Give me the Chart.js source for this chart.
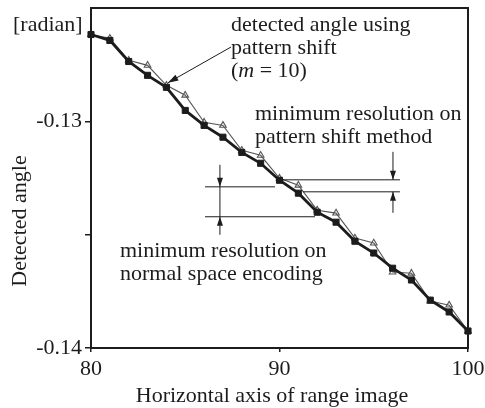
<!DOCTYPE html>
<html>
<head>
<meta charset="utf-8">
<script src="https://cdn.jsdelivr.net/npm/chart.js@4.4.1/dist/chart.umd.min.js"></script>
<style>
  html, body { margin: 0; padding: 0; background: #fff; }
  #wrap { width: 485px; height: 408px; }
</style>
</head>
<body>
<div id="wrap"><canvas id="chart" width="485" height="408"></canvas></div>
<script>
// horizontal position on the range image
const positions = [80, 81, 82, 83, 84, 85, 86, 87, 88, 89, 90, 91, 92, 93, 94, 95, 96, 97, 98, 99, 100]
// detected angle, thick line with filled squares
const squareAngle = [-0.12617, -0.12643, -0.12736, -0.12797, -0.1285, -0.12952, -0.13018, -0.1307, -0.13137, -0.13185,
  -0.1326, -0.13317, -0.13401, -0.13445, -0.13529, -0.13581, -0.13648, -0.137, -0.13789, -0.13841, -0.13925]
// detected angle, thin line with open triangles
const triangleAngle = [-0.12617, -0.12634, -0.12731, -0.12753, -0.12841, -0.12885, -0.13004, -0.13018, -0.13128, -0.1315,
  -0.13251, -0.13282, -0.13392, -0.13405, -0.13515, -0.13537, -0.13665, -0.1367, -0.13793, -0.13811, -0.13925]

const xTicks = [80, 90, 100]
const yTicks = [-0.14, -0.135, -0.13]
const yTickLabels = { '-0.14': '-0.14', '-0.13': '-0.13' }

// resolution marks (axis values)
const shiftLevels = [-0.13258, -0.13311]
const shiftSpan = [[90.19, 96.39], [91.25, 96.39]]
const shiftArrowX = 96.02
const normalLevels = [-0.13289, -0.13421]
const normalSpan = [[86.05, 89.76], [86.05, 91.88]]
const normalArrowX = 86.84

const serif = '"Liberation Serif", "Times New Roman", serif'
const ink = '#1c1c1c'

function arrowHead (ctx, x, y, dir) {
  // dir: 1 points down, -1 points up
  ctx.beginPath()
  ctx.moveTo(x, y)
  ctx.lineTo(x - 3, y - dir * 9)
  ctx.lineTo(x + 3, y - dir * 9)
  ctx.closePath()
  ctx.fill()
}

const annotate = {
  id: 'annotate',
  afterDraw (chart) {
    const { ctx, chartArea: a, scales: { x, y } } = chart
    ctx.save()
    ctx.strokeStyle = ink
    ctx.fillStyle = ink

    // frame
    ctx.lineWidth = 2
    ctx.strokeRect(a.left, a.top, a.right - a.left, a.bottom - a.top)

    // resolution lines
    ctx.lineWidth = 1
    const hline = (y0, x0, x1) => {
      ctx.beginPath()
      ctx.moveTo(x.getPixelForValue(x0), y.getPixelForValue(y0))
      ctx.lineTo(x.getPixelForValue(x1), y.getPixelForValue(y0))
      ctx.stroke()
    }
    shiftLevels.forEach((v, i) => hline(v, shiftSpan[i][0], shiftSpan[i][1]))
    normalLevels.forEach((v, i) => hline(v, normalSpan[i][0], normalSpan[i][1]))

    // pattern shift arrows
    let ax = x.getPixelForValue(shiftArrowX)
    let t0 = y.getPixelForValue(shiftLevels[0])
    let t1 = y.getPixelForValue(shiftLevels[1])
    ctx.beginPath()
    ctx.moveTo(ax, t0 - 28); ctx.lineTo(ax, t0)
    ctx.moveTo(ax, t1); ctx.lineTo(ax, t1 + 21)
    ctx.stroke()
    arrowHead(ctx, ax, t0, 1)
    arrowHead(ctx, ax, t1, -1)

    // normal space arrows
    ax = x.getPixelForValue(normalArrowX)
    t0 = y.getPixelForValue(normalLevels[0])
    t1 = y.getPixelForValue(normalLevels[1])
    ctx.beginPath()
    ctx.moveTo(ax, t0 - 22); ctx.lineTo(ax, t1 + 18)
    ctx.stroke()
    arrowHead(ctx, ax, t0, 1)
    arrowHead(ctx, ax, t1, -1)

    // pointer to the pattern shift curve
    const px0 = x.getPixelForValue(87.43)
    const py0 = y.getPixelForValue(-0.12672)
    const px1 = x.getPixelForValue(84.08)
    const py1 = y.getPixelForValue(-0.1283)
    ctx.beginPath()
    ctx.moveTo(px0, py0); ctx.lineTo(px1, py1)
    ctx.stroke()
    const ang = Math.atan2(py1 - py0, px1 - px0)
    ctx.beginPath()
    ctx.moveTo(px1, py1)
    ctx.lineTo(px1 - 11 * Math.cos(ang - 0.3), py1 - 11 * Math.sin(ang - 0.3))
    ctx.lineTo(px1 - 11 * Math.cos(ang + 0.3), py1 - 11 * Math.sin(ang + 0.3))
    ctx.closePath()
    ctx.fill()

    // texts
    ctx.font = '22px ' + serif
    ctx.textBaseline = 'alphabetic'
    ctx.textAlign = 'left'
    ctx.fillText('[radian]', 13, 31)
    ctx.fillText('detected angle using', 231, 31)
    ctx.fillText('pattern shift', 231, 54)
    let tx = 231
    ctx.fillText('(', tx, 77); tx += ctx.measureText('(').width
    ctx.font = 'italic 22px ' + serif
    ctx.fillText('m', tx, 77); tx += ctx.measureText('m').width
    ctx.font = '22px ' + serif
    ctx.fillText(' = 10)', tx, 77)
    ctx.fillText('minimum resolution on', 255, 120)
    ctx.fillText('pattern shift method', 255, 143)
    ctx.fillText('minimum resolution on', 120, 257)
    ctx.fillText('normal space encoding', 120, 280)

    // axis titles
    ctx.textAlign = 'center'
    ctx.fillText('Horizontal axis of range image', 272, 402)
    ctx.translate(26, 221)
    ctx.rotate(-Math.PI / 2)
    ctx.fillText('Detected angle', 0, 0)
    ctx.restore()
  }
}

new Chart(document.getElementById('chart'), {
  type: 'line',
  data: {
    labels: positions,
    datasets: [
      {
        label: 'pattern shift',
        data: positions.map((p, i) => ({ x: p, y: squareAngle[i] })),
        borderColor: ink,
        borderWidth: 2.8,
        pointStyle: 'rect',
        pointRadius: 4.3,
        pointBackgroundColor: ink,
        pointBorderColor: ink,
        pointBorderWidth: 1,
        order: 0
      },
      {
        label: 'normal space encoding',
        data: positions.map((p, i) => ({ x: p, y: triangleAngle[i] })),
        borderColor: '#555',
        borderWidth: 1.1,
        pointStyle: 'triangle',
        pointRadius: 3.8,
        pointBackgroundColor: 'rgba(255,255,255,0)',
        pointBorderColor: '#555',
        pointBorderWidth: 1.1,
        order: 1
      }
    ]
  },
  options: {
    responsive: false,
    devicePixelRatio: 1,
    animation: false,
    clip: false,
    layout: { padding: { left: 0, top: 8, right: 17, bottom: 0 } },
    plugins: { legend: { display: false }, tooltip: { enabled: false } },
    scales: {
      x: {
        type: 'linear',
        min: 80,
        max: 100,
        afterBuildTicks: s => { s.ticks = xTicks.map(v => ({ value: v })) },
        afterFit: s => { s.height = 60; s.paddingLeft = 0; s.paddingRight = 0 },
        border: { display: false },
        grid: { drawOnChartArea: false, tickLength: 4, color: ink, lineWidth: 1.5 },
        ticks: { color: ink, font: { family: serif, size: 22 }, padding: 4, maxRotation: 0 }
      },
      y: {
        type: 'linear',
        min: -0.14,
        max: -0.125,
        afterBuildTicks: s => { s.ticks = yTicks.map(v => ({ value: v })) },
        afterFit: s => { s.width = 91; s.paddingTop = 0; s.paddingBottom = 0 },
        border: { display: false },
        grid: { drawOnChartArea: false, tickLength: 6, color: ink, lineWidth: 1.5 },
        ticks: {
          color: ink,
          font: { family: serif, size: 22 },
          padding: 3,
          callback: v => yTickLabels[String(Math.round(v * 1000) / 1000)] || ''
        }
      }
    }
  },
  plugins: [annotate]
})
</script>
</body>
</html>
